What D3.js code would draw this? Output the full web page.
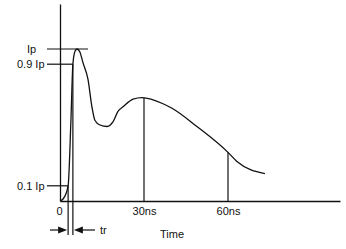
<!DOCTYPE html>
<html>
<head>
<meta charset="utf-8">
<script src="https://cdn.jsdelivr.net/npm/d3@7"></script>
<style>
  body { margin: 0; background: #fff; }
  text { font-family: "Liberation Sans", Arial, sans-serif; font-size: 11px; fill: #111; }
</style>
</head>
<body>
<script>
// pulse shape (time in ns, current as a fraction of Ip)
var times = [0, 1.1, 2.9, 3.9, 4.6, 5.4, 6.1, 7.1, 8.2, 10, 11.4, 12.5, 14.3, 16.8,
  18.9, 20.7, 22.5, 26.1, 29.3, 36.8, 40, 48.9, 60, 63.2, 73.2];
var current = [0, 0.013, 0.1, 0.53, 0.9, 0.987, 1.0, 0.98, 0.91, 0.8, 0.62, 0.53, 0.5, 0.49,
  0.52, 0.59, 0.62, 0.67, 0.68, 0.64, 0.61, 0.49, 0.32, 0.26, 0.18];

var levels = [1, 0.9, 0.1];
var levelLabels = ["Ip", "0.9 Ip", "0.1 Ip"];
var tickValues = [0, 30, 60];
var tickLabels = ["0", "30ns", "60ns"];
var riseTimes = [2.9, 4.6];      // 10% and 90% crossings
var riseLevels = [0.1, 0.9];
var markTimes = [30, 60];
var markValues = [0.68, 0.32];

var width = 346, height = 249;
var x = d3.scaleLinear().domain([0, 100]).range([60, 340]);
var y = d3.scaleLinear().domain([0, 1]).range([201, 49]);

var svg = d3.select("body").append("svg")
  .attr("width", width).attr("height", height);

var ink = "#111";

// x axis
var xAxis = d3.axisBottom(x)
  .tickValues(tickValues)
  .tickFormat(function(d, i) { return tickLabels[i]; })
  .tickSize(0).tickSizeOuter(0).tickPadding(6);
var gx = svg.append("g").attr("transform", "translate(0," + y(0) + ")").call(xAxis);
gx.select(".domain").attr("stroke", ink).attr("stroke-width", 1.3);
gx.selectAll("text").style("font-size", "11px").attr("fill", ink)
  .attr("font-family", "Liberation Sans, Arial, sans-serif");
gx.selectAll(".tick").filter(function(d) { return d === 0; }).select("text").attr("dx", -1);

// y axis (no ticks, runs to the top)
var yAxis = d3.axisLeft(y.copy().domain([0, 1.296]).range([201, 4]))
  .tickValues([]).tickSizeOuter(0);
svg.append("g").attr("transform", "translate(" + x(0) + ",0)").call(yAxis)
  .select(".domain").attr("stroke", ink).attr("stroke-width", 1.3);

// level lines and labels
var levelEnd = [x(0) + 28, x(riseTimes[1]), x(riseTimes[0])];
var labelStart = [27, 17, 17];
levels.forEach(function(v, i) {
  svg.append("line")
    .attr("x1", 47).attr("x2", levelEnd[i])
    .attr("y1", y(v)).attr("y2", y(v))
    .attr("stroke", ink).attr("stroke-width", 1.2);
  svg.append("text")
    .attr("x", labelStart[i]).attr("y", y(v) + 4)
    .text(levelLabels[i]);
});

// rise time verticals
riseTimes.forEach(function(t, i) {
  svg.append("line")
    .attr("x1", x(t)).attr("x2", x(t))
    .attr("y1", y(riseLevels[i])).attr("y2", 235)
    .attr("stroke", ink).attr("stroke-width", 1.2);
});

// verticals at 30ns and 60ns
markTimes.forEach(function(t, i) {
  svg.append("line")
    .attr("x1", x(t)).attr("x2", x(t))
    .attr("y1", y(markValues[i])).attr("y2", y(0))
    .attr("stroke", ink).attr("stroke-width", 1.2);
});

// the pulse
var line = d3.line()
  .x(function(d, i) { return x(times[i]); })
  .y(function(d) { return y(d); })
  .curve(d3.curveMonotoneX);
svg.append("path").datum(current)
  .attr("d", line)
  .attr("fill", "none").attr("stroke", ink).attr("stroke-width", 1.3);

// tr arrows
var ay = 230;
var xa = x(riseTimes[0]), xb = x(riseTimes[1]);
svg.append("line").attr("x1", 50).attr("x2", xa - 6).attr("y1", ay).attr("y2", ay)
  .attr("stroke", ink).attr("stroke-width", 1.2);
svg.append("path")
  .attr("d", "M" + (xa - 1) + "," + ay + "L" + (xa - 10) + "," + (ay - 3.5) + "L" + (xa - 10) + "," + (ay + 3.5) + "Z")
  .attr("fill", ink);
svg.append("line").attr("x1", xb + 6).attr("x2", 95).attr("y1", ay).attr("y2", ay)
  .attr("stroke", ink).attr("stroke-width", 1.2);
svg.append("path")
  .attr("d", "M" + (xb + 1) + "," + ay + "L" + (xb + 10) + "," + (ay - 3.5) + "L" + (xb + 10) + "," + (ay + 3.5) + "Z")
  .attr("fill", ink);
svg.append("text").attr("x", 100).attr("y", 234).text("tr");

// axis title
svg.append("text").attr("x", 172).attr("y", 238)
  .attr("text-anchor", "middle").text("Time");
</script>
</body>
</html>
